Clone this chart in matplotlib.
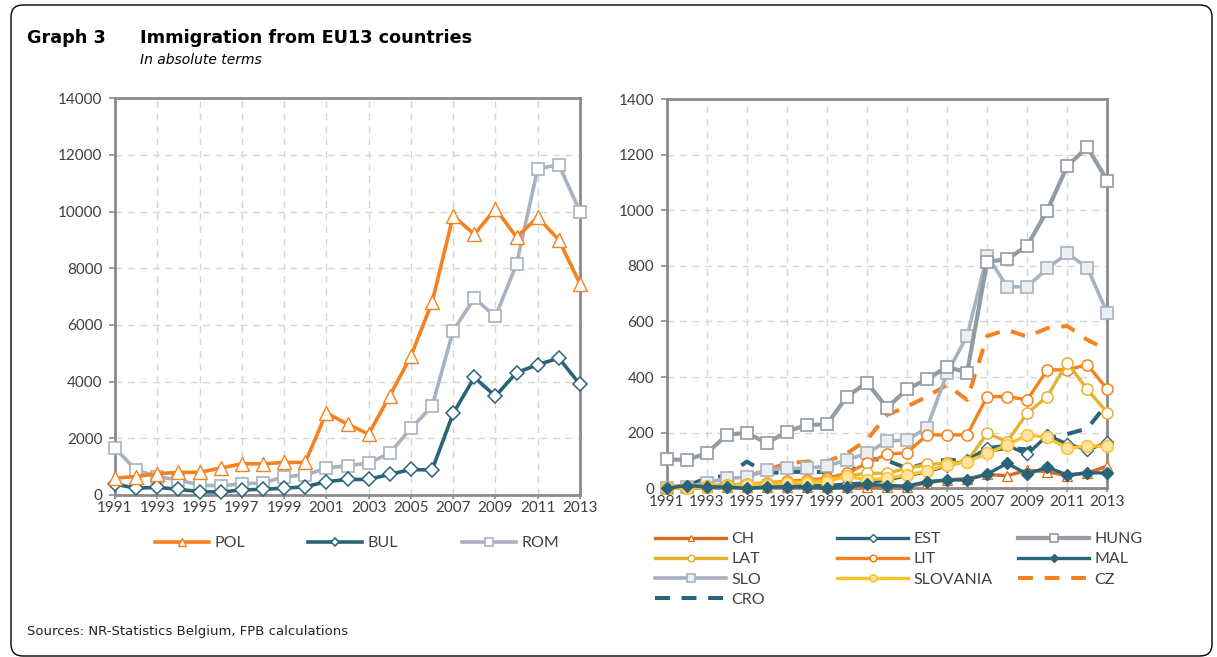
import matplotlib
matplotlib.use("Agg")
import matplotlib.pyplot as plt
from matplotlib.patches import FancyBboxPatch
from matplotlib.lines import Line2D

years = list(range(1991, 2014))

# Left panel
pol = [600, 650, 750, 800, 800, 950, 1100, 1100, 1150, 1150, 2900, 2500, 2150,
       3500, 4900, 6800, 9850, 9200, 10100, 9100, 9800, 9000, 7450]
bul = [380, 240, 270, 200, 120, 100, 180, 200, 240, 290, 470, 550, 550,
       730, 900, 880, 2880, 4150, 3490, 4320, 4600, 4830, 3900]
rom = [1650, 880, 650, 530, 350, 320, 400, 420, 650, 700, 950, 1040, 1120,
       1480, 2350, 3130, 5800, 6940, 6300, 8150, 11520, 11650, 10000]

# Right panel
ch = [0, 2, 3, 5, 5, 5, 5, 5, 5, 5, 5, 5, 5, 20, 30, 35, 50, 45, 65, 60, 45, 55, 80]
est = [0, 5, 5, 5, 5, 5, 8, 10, 10, 15, 20, 30, 45, 60, 80, 100, 145, 155, 122, 190, 160, 138, 165]
hung = [104, 102, 126, 192, 200, 162, 204, 228, 230, 330, 380, 290, 356, 393, 437, 416,
        815, 824, 873, 999, 1159, 1227, 1107]
lat = [0, 3, 8, 12, 15, 20, 22, 25, 30, 45, 54, 54, 72, 86, 90, 96, 198, 168, 270, 330, 452, 356, 272]
lit = [0, 5, 10, 12, 15, 20, 25, 30, 36, 54, 90, 123, 128, 192, 192, 192, 330, 330, 318, 426, 426, 445, 356]
mal = [0, 10, 5, 5, 0, 5, 5, 5, 0, 5, 15, 10, 8, 24, 30, 30, 51, 90, 51, 76, 48, 56, 55]
slo = [2, 5, 20, 36, 40, 66, 72, 72, 80, 102, 126, 170, 174, 218, 414, 548, 837, 725, 725, 791, 845, 794, 630]
slovania = [0, 0, 4, 8, 12, 12, 18, 20, 24, 44, 30, 36, 48, 62, 84, 96, 126, 156, 192, 183, 144, 152, 152]
cz = [5, 10, 20, 24, 42, 66, 90, 96, 96, 126, 174, 264, 294, 330, 372, 318, 548, 570, 545, 576, 584, 534, 498]
cro = [0, 8, 37, 45, 96, 55, 58, 60, 58, 48, 108, 100, 72, 90, 104, 96, 135, 145, 140, 180, 195, 215, 305]

W, H = 1217, 657
fig = plt.figure(figsize=(W / 100, H / 100), dpi=100)
fig.patch.set_facecolor('white')


def fx(px):
    return px / W


def fy(py):
    return 1 - py / H


TXT = '#404040'
SPINE = '#8c8c8c'
ORANGE = '#f5821f'
TEAL = '#2a6479'
ROMGREY = '#a8b3bf'
HUNGGREY = '#939ba4'
GOLD = '#e5b12f'
YELLOW = '#fdc12c'
DORANGE = '#dc6a1c'


def style(ax, ymax, ystep):
    ax.set_xlim(1991, 2013)
    ax.set_ylim(0, ymax)
    ax.set_xticks(range(1991, 2014, 2))
    ax.set_yticks(range(0, ymax + 1, ystep))
    ax.grid(True, color='#d6d6d6', linestyle=(0, (5, 4)), linewidth=1.0)
    ax.set_axisbelow(True)
    for s in ax.spines.values():
        s.set_color(SPINE)
        s.set_linewidth(2.0)
    ax.tick_params(axis='y', colors=SPINE, labelcolor=TXT, labelsize=11, length=4, width=1.2, pad=5)
    ax.tick_params(axis='x', colors=SPINE, labelcolor=TXT, labelsize=11, length=3, width=1.2, pad=1.5)
    for lab in ax.get_xticklabels() + ax.get_yticklabels():
        lab.set_family('Lato')


# ---------- left panel ----------
ax1 = fig.add_axes([fx(115), fy(495), (580 - 115) / W, (495 - 98.3) / H])
style(ax1, 14000, 2000)

st_pol = dict(color=ORANGE, lw=2.6, marker='^', ms=10, mfc='white', mec=ORANGE, mew=1.0)
st_bul = dict(color=TEAL, lw=2.6, marker='D', ms=7.5, mfc='white', mec=TEAL, mew=1.1)
st_rom = dict(color=ROMGREY, lw=2.6, marker='s', ms=9, mfc='white', mec=ROMGREY, mew=1.2)

ax1.plot(years, rom, clip_on=False, zorder=3, **st_rom)
ax1.plot(years, bul, clip_on=False, zorder=4, **st_bul)
ax1.plot(years, pol, clip_on=False, zorder=5, **st_pol)

# ---------- right panel ----------
ax2 = fig.add_axes([fx(666.7), fy(488.3), (1107.3 - 666.7) / W, (488.3 - 99.1) / H])
style(ax2, 1400, 200)

st = {
    'CH': dict(color=DORANGE, lw=2.4, marker='^', ms=6.5, mfc='white', mec=DORANGE, mew=0.9),
    'EST': dict(color=TEAL, lw=2.4, marker='D', ms=6.5, mfc='white', mec=TEAL, mew=1.0),
    'HUNG': dict(color=HUNGGREY, lw=3.0, marker='s', ms=8.5, mfc='white', mec=HUNGGREY, mew=1.2),
    'LAT': dict(color=GOLD, lw=2.4, marker='o', ms=8, mfc='white', mec=GOLD, mew=1.1),
    'LIT': dict(color=ORANGE, lw=2.4, marker='o', ms=8, mfc='white', mec=ORANGE, mew=1.1),
    'MAL': dict(color=TEAL, lw=2.4, marker='D', ms=6.5, mfc=TEAL, mec=TEAL, mew=1.0),
    'SLO': dict(color=ROMGREY, lw=2.6, marker='s', ms=8.5, mfc='#eceff2', mec=ROMGREY, mew=1.2),
    'SLOVANIA': dict(color=YELLOW, lw=2.4, marker='o', ms=8.5, mfc='#ffe4a3', mec=YELLOW, mew=1.1),
    'CZ': dict(color=ORANGE, lw=2.9, linestyle=(0, (3.7, 2.9))),
    'CRO': dict(color=TEAL, lw=2.9, linestyle=(0, (3.7, 2.9))),
}
series = {'CH': ch, 'EST': est, 'HUNG': hung, 'LAT': lat, 'LIT': lit, 'MAL': mal,
          'SLO': slo, 'SLOVANIA': slovania, 'CZ': cz, 'CRO': cro}
draw_order = ['CZ', 'CRO', 'SLO', 'HUNG', 'LIT', 'LAT', 'CH', 'EST', 'SLOVANIA', 'MAL']
for i, k in enumerate(draw_order):
    ax2.plot(years, series[k], clip_on=False, zorder=3 + i, **st[k])

# ---------- legends ----------
LEGFONT = {'family': 'Lato', 'size': 11.5}


def leg_handle(s, shrink=0.6):
    d = dict(s)
    if 'ms' in d:
        d['ms'] = d['ms'] * shrink
    return Line2D([], [], **d)


def place_legend(keys, styles, x_px, y_px, hl):
    hs = [leg_handle(styles[k]) for k in keys]
    lg = fig.legend(hs, keys, loc='upper left', bbox_to_anchor=(fx(x_px), fy(y_px)),
                    frameon=False, borderpad=0, borderaxespad=0, handlelength=hl,
                    handletextpad=0.35, labelspacing=0.38, prop=LEGFONT, labelcolor=TXT)
    return lg


left_styles = {'POL': st_pol, 'BUL': st_bul, 'ROM': st_rom}
place_legend(['POL'], left_styles, 155, 536, 3.4)
place_legend(['BUL'], left_styles, 308, 536, 3.4)
place_legend(['ROM'], left_styles, 462, 536, 3.4)

place_legend(['CH', 'LAT', 'SLO', 'CRO'], st, 655, 532, 4.45)
place_legend(['EST', 'LIT', 'SLOVANIA'], st, 837, 532, 4.45)
place_legend(['HUNG', 'MAL', 'CZ'], st, 1018, 532, 4.45)

# ---------- texts ----------
fig.text(fx(27), fy(38), 'Graph 3', weight='bold', size=12.7, va='center', ha='left', color='black')
fig.text(fx(140), fy(38), 'Immigration from EU13 countries', weight='bold', size=12.7,
         va='center', ha='left', color='black')
fig.text(fx(140), fy(60), 'In absolute terms', style='italic', size=10, va='center', ha='left', color='black')
fig.text(fx(27), fy(631), 'Sources: NR-Statistics Belgium, FPB calculations', size=9.5,
         va='center', ha='left', color='#222222')

# frame
frame = FancyBboxPatch((11, 1), 1201, 651, boxstyle='round,pad=0,rounding_size=12',
                       transform=None, fill=False, edgecolor='black', linewidth=1.0)
fig.add_artist(frame)

fig.savefig('out.png', dpi=100)
